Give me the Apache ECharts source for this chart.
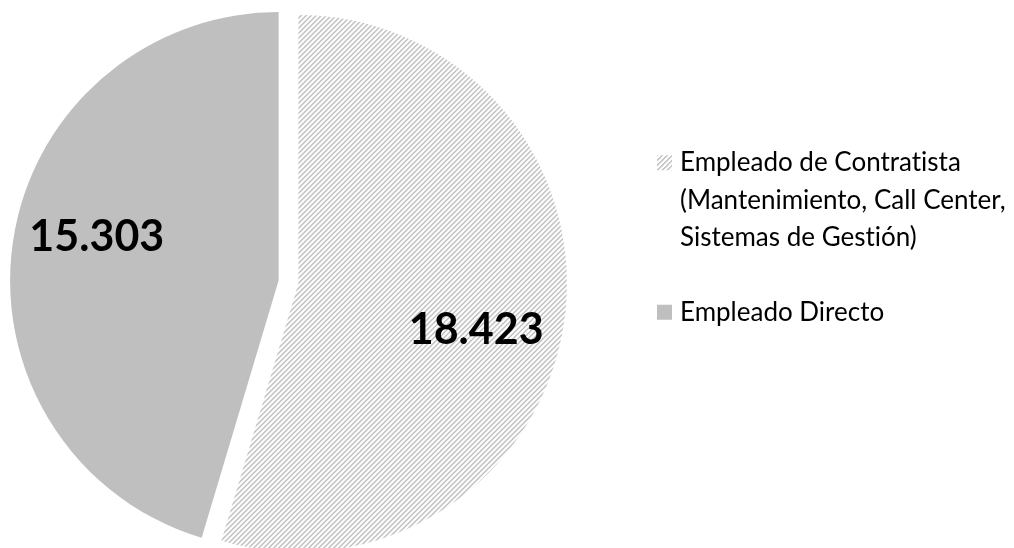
<!DOCTYPE html>
<html><head><meta charset="utf-8">
<script src="https://cdn.jsdelivr.net/npm/echarts@6/dist/echarts.min.js"></script>
<style>html,body{margin:0;padding:0;background:#fff}#c{width:1014px;height:548px}</style>
</head><body><div id="c"></div>
<script>
// ---- data ----
const categories = [
  'Empleado de Contratista\n(Mantenimiento, Call Center,\nSistemas de Gestión)',
  'Empleado Directo'
];
const values = [18423, 15303];

// ---- styles ----
function makeHatch() {
  const n = 5;
  const cv = document.createElement('canvas');
  cv.width = n; cv.height = n;
  const ctx = cv.getContext('2d');
  ctx.fillStyle = '#ffffff';
  ctx.fillRect(0, 0, n, n);
  for (let i = 0; i < n; i++) {
    ctx.fillStyle = '#a6a6a6';
    ctx.fillRect(i, n - 1 - i, 1, 1);
    ctx.fillStyle = '#d9d9d9';
    ctx.fillRect((i + 1) % n, n - 1 - i, 1, 1);
  }
  return cv;
}
const hatch = { image: makeHatch(), repeat: 'repeat' };
const sliceColors = [hatch, '#bfbfbf'];
const labelShift = [[42, 27], [-46, -24]];

function fmt(v) { return String(v).replace(/\B(?=(\d{3})+(?!\d))/g, '.'); }

// plain glyphs, no "ti" ligature
(function () {
  const P = CanvasRenderingContext2D.prototype;
  const orig = P.fillText;
  P.fillText = function () {
    try { this.textRendering = 'optimizeSpeed'; this.fontVariantLigatures = 'none'; } catch (e) {}
    return orig.apply(this, arguments);
  };
})();

const chart = echarts.init(document.getElementById('c'), null, { renderer: 'canvas' });
chart.setOption({
  animation: false,
  backgroundColor: '#ffffff',
  legend: {
    orient: 'vertical',
    left: 657,
    top: 69,
    padding: 0,
    itemWidth: 15,
    itemHeight: 15,
    itemGap: 37,
    icon: 'rect',
    selectedMode: false,
    // multi-line entry: keep icon level with its first line
    formatter: name => (name.indexOf('\n') >= 0
      ? '\n'.repeat(name.split('\n').length - 1) + name : name),
    textStyle: { fontFamily: 'Lato', fontSize: 26, color: '#000', lineHeight: 37.5, padding: [0, 0, 0, 3] },
    data: categories
  },
  series: [{
    type: 'pie',
    center: [288.5, 282],
    radius: 268.5,
    startAngle: 90,
    clockwise: true,
    selectedMode: 'multiple',
    selectedOffset: 10,
    avoidLabelOverlap: false,
    emphasis: { disabled: true },
    label: {
      show: true,
      position: 'inside',
      fontFamily: 'Lato',
      fontWeight: 'bold',
      fontSize: 43,
      color: '#000',
      formatter: p => fmt(p.value)
    },
    labelLayout: p => ({ dx: labelShift[p.dataIndex][0], dy: labelShift[p.dataIndex][1] }),
    labelLine: { show: false },
    itemStyle: { borderWidth: 0 },
    data: categories.map((c, i) => ({
      name: c, value: values[i], selected: true,
      itemStyle: { color: sliceColors[i] }
    }))
  }]
});
</script></body></html>
